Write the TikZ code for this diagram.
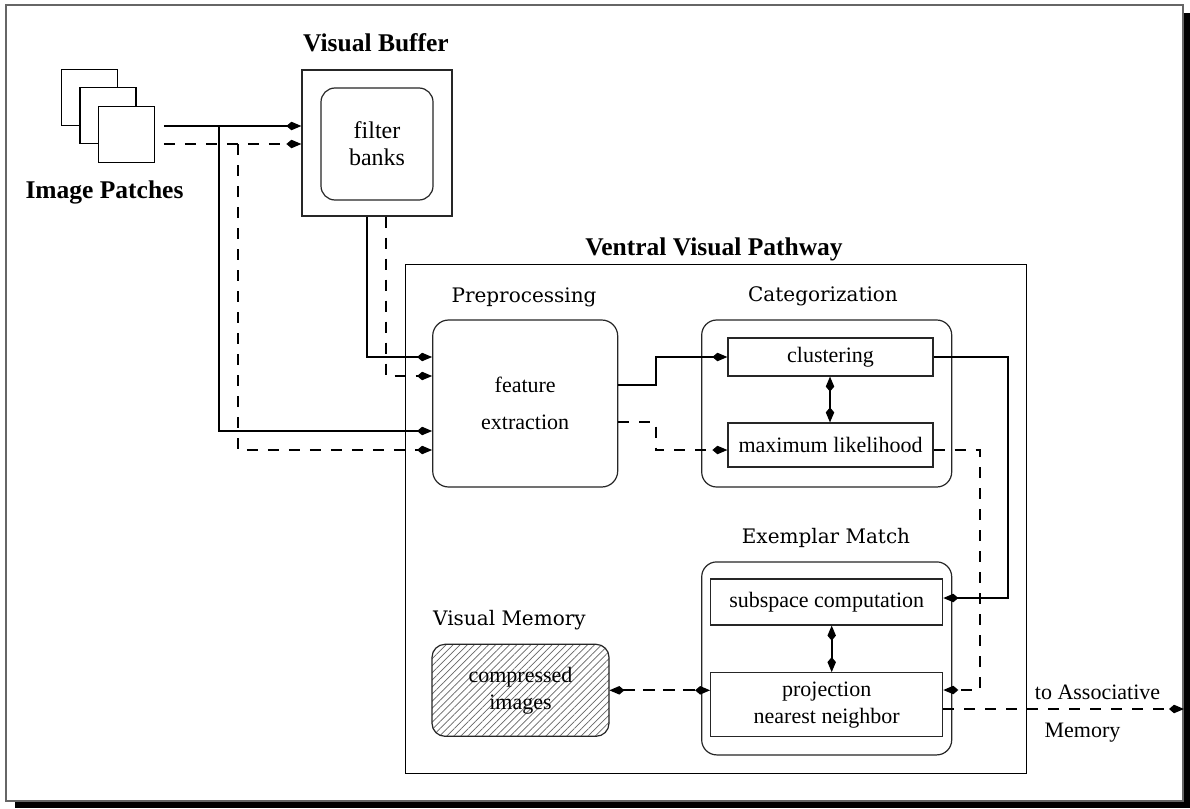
\documentclass[tikz,border=0pt]{standalone}
\usepackage{fontspec}
\setmainfont{Liberation Serif}
\newfontfamily\headfont{DejaVu Serif}
\usetikzlibrary{arrows.meta,patterns.meta,calc}

\begin{document}
\begin{tikzpicture}[x=1pt,y=-1pt,
  every node/.style={font=\fontsize{22}{27}\selectfont},
  box/.style={draw=black!85, line width=1.2pt, fill=white, inner sep=0pt, align=center},
  rbox/.style={box, rounded corners=14pt},
  title/.style={font=\bfseries\fontsize{25.5}{30}\selectfont, anchor=base, inner sep=0pt},
  subtitle/.style={font=\headfont\fontsize{20}{24}\selectfont, anchor=base, inner sep=0pt},
  plain/.style={anchor=base, inner sep=0pt},
  tip/.tip={Kite[length=15pt,width=8.5pt,inset=5pt]},
  wire/.style={line width=2pt, -tip},
  dwire/.style={wire, dash pattern=on 11pt off 10pt},
  bwire/.style={line width=2pt, tip-tip},
  dbwire/.style={bwire, dash pattern=on 12pt off 8pt},
]
\useasboundingbox (0,0) rectangle (1190,808);

% page frame with drop shadow
\fill[black] (15,13) rectangle (1190,808);
\node[draw=black!60, line width=2pt, fill=white, minimum width=1177pt, minimum height=796pt, inner sep=0pt] (frame) at (594.5,403) {};

% stack of image patches
\node[box, draw=black, minimum size=56pt] (p1) at (89.5,97.5) {};
\node[box, draw=black, minimum size=56pt] (p2) at (108,115.7) {};
\node[box, draw=black, minimum size=56pt] (p3) at (126.3,134.5) {};
\node[title] (iplabel) at (104.5,198) {Image Patches};

% visual buffer
\node[box, minimum width=150pt, minimum height=146pt] (buf) at (377,143) {};
\node[rbox, minimum width=112pt, minimum height=112pt, font=\fontsize{24}{27}\selectfont] (filt) at (377,144) {filter\\banks};
\node[title] (buftitle) at (376,51.7) {Visual Buffer};

% ventral visual pathway
\node[box, draw=black, line width=1pt, fill=none, minimum width=621pt, minimum height=509pt] (vvp) at (715.5,518.5) {};
\node[title] (vvptitle) at (714,255) {Ventral Visual Pathway};

% preprocessing
\node[rbox, rounded corners=16pt, minimum width=185pt, minimum height=167pt, font=\fontsize{22}{37}\selectfont] (prep) at (525.2,403.5) {feature\\extraction};
\node[subtitle] (preptitle) at (524,302) {Preprocessing};

% categorization
\node[rbox, rounded corners=15pt, minimum width=250pt, minimum height=167pt] (cat) at (826.7,403.5) {};
\node[subtitle] (cattitle) at (823,301.7) {Categorization};
\node[box, minimum width=205pt, minimum height=38pt] (clu) at (830.5,357) {clustering};
\node[box, minimum width=205pt, minimum height=44pt] (ml) at (830.5,445) {maximum likelihood};

% exemplar match
\node[rbox, rounded corners=15pt, minimum width=250pt, minimum height=193pt] (ex) at (826.7,658.4) {};
\node[subtitle] (extitle) at (826,543.7) {Exemplar Match};
\node[box, minimum width=232pt, minimum height=46pt] (sub) at (826.7,602) {subspace computation};
\node[box, minimum width=232pt, minimum height=64pt] (proj) at (826.7,704.7) {projection\\nearest neighbor};

% visual memory
\node[rbox, rounded corners=13pt, pattern={Lines[angle=45,distance=5pt,line width=0.7pt]}, pattern color=black!60, minimum width=177pt, minimum height=92pt] (vm) at (520.5,690.3) {compressed\\images};
\node[subtitle, anchor=base west] (vmtitle) at (433,625) {Visual Memory};

% output label
\node[plain] (assoc1) at (1097.5,699) {to Associative};
\node[plain] (assoc2) at (1082.5,737) {Memory};

% image patches to the visual buffer and to preprocessing
\coordinate (s1) at ($(p3.east)+(9,-8.5)$);
\coordinate (d1) at ($(p3.east)+(9,9.5)$);
\draw[wire] (s1) -- (s1 -| buf.west);
\draw[dwire] (d1) -- (d1 -| buf.west);
\draw[wire] ($(s1)+(55.5,0)$) |- ($(prep.west)+(0,27.5)$);
\draw[dwire] ($(d1)+(74,0)$) |- ($(prep.west)+(0,46.5)$);

% visual buffer to preprocessing
\draw[wire] ($(buf.south)+(-10,0)$) |- ($(prep.west)+(0,-46.5)$);
\draw[dwire] ($(buf.south)+(9,0)$) |- ($(prep.west)+(0,-27.5)$);

% preprocessing to categorization
\draw[wire] ($(prep.east)+(0,-18.5)$) -- ++(37.3,0) |- (clu.west);
\draw[dwire] ($(prep.east)+(0,18.5)$) -- ++(37.3,0) |- ($(ml.west)+(0,5)$);
\draw[bwire] ([xshift=-0.5pt]clu.south) -- ([xshift=-0.5pt]ml.north);

% categorization to exemplar match
\draw[wire] (clu.east) -- ++(74,0) |- ($(sub.east)+(0,-4)$);
\draw[dwire] ($(ml.east)+(0,5)$) -- ++(46,0) |- ($(proj.east)+(0,-14.7)$);
\draw[bwire] ([xshift=5pt]sub.south) -- ([xshift=5pt]proj.north);

% exemplar match to visual memory and associative memory
\draw[dbwire] (vm.east) -- (vm.east -| proj.west);
\coordinate (out) at ($(proj.east)+(0,4.3)$);
\draw[dwire] (out) -- (out -| frame.east);
\end{tikzpicture}
\end{document}
